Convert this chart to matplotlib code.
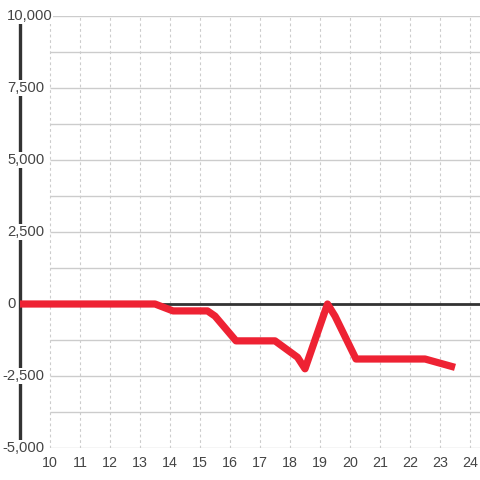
import matplotlib
matplotlib.use("Agg")
import matplotlib.pyplot as plt

# data (hour of day vs value)
hours = [9, 13.5, 14.1, 15.25, 15.5, 16.2, 17.5, 18.25, 18.5, 19.25, 19.5, 20.2, 22.5, 23.5]
values = [0, 0, -240, -240, -420, -1280, -1280, -1850, -2250, 0, -420, -1910, -1910, -2200]

x_ticks = list(range(10, 25))
y_labels = [10000, 7500, 5000, 2500, 0, -2500, -5000]
y_grid = [v * 1250 for v in range(-4, 9)]

plt.rcParams["font.family"] = ["Liberation Sans", "DejaVu Sans"]

fig = plt.figure(figsize=(4.8, 4.8), dpi=100)
ax = fig.add_axes([20 / 480, 32 / 480, 460 / 480, 432 / 480])
ax.set_xlim(9, 24.333)
ax.set_ylim(-5000, 10000)

# grid lines
ax.hlines(y_grid, 10, 24.333, color="#cccccc", lw=1, zorder=1)
ax.vlines(x_ticks, -5000, 10000, color="#cccccc", lw=0.8, linestyles=(0, (2.5, 2.5)), zorder=1)
ax.axhline(0, color="#333333", lw=2, zorder=2)

for s in ["top", "right", "bottom"]:
    ax.spines[s].set_visible(False)
ax.spines["left"].set_color("#333333")
ax.spines["left"].set_linewidth(2.4)

ax.plot(hours, values, color="#ee2233", lw=5.2, solid_capstyle="butt", solid_joinstyle="round", zorder=4)

ax.set_xticks(x_ticks)
ax.set_xticklabels([str(t) for t in x_ticks], fontsize=10.3, color="#444444")
ax.tick_params(axis="x", length=0, pad=6)
ax.set_yticks([])

trans = ax.get_yaxis_transform()
for v in y_labels:
    xpos = -13 / 460 if v >= 0 else -18 / 460
    ax.text(xpos, v, f"{v:,}", transform=trans, ha="left", va="center", fontsize=10.6,
            color="#444444", clip_on=False, zorder=3,
            bbox=dict(facecolor="white", edgecolor="none", pad=0.5))

fig.savefig("out.png", dpi=100)
